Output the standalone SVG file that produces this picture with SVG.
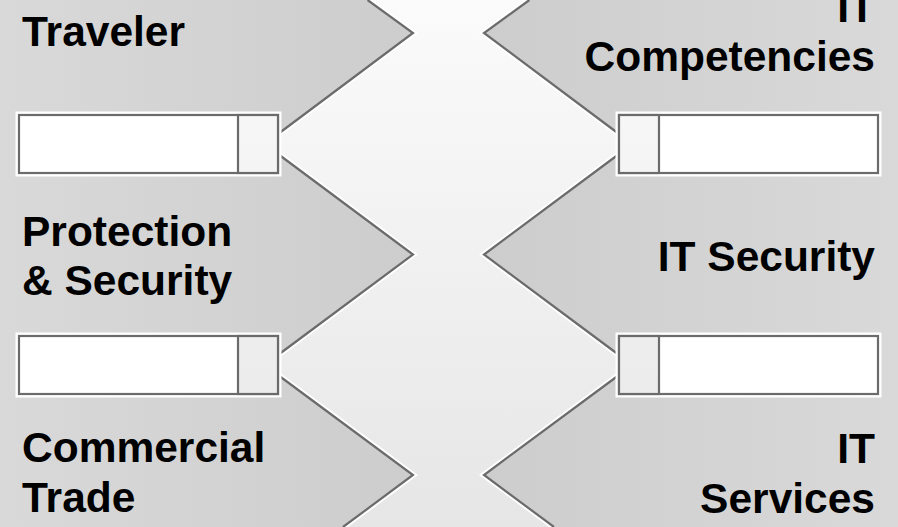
<svg xmlns="http://www.w3.org/2000/svg" width="898" height="527" viewBox="0 0 898 527">
<defs>
<linearGradient id="bg" gradientUnits="userSpaceOnUse" x1="0" y1="0" x2="0" y2="527">
<stop offset="0" stop-color="#fbfbfb"/>
<stop offset="1" stop-color="#e6e6e6"/>
</linearGradient>
<linearGradient id="gl" gradientUnits="userSpaceOnUse" x1="0" y1="0" x2="413" y2="0">
<stop offset="0" stop-color="#d9d9d9"/>
<stop offset="1" stop-color="#cdcdcd"/>
</linearGradient>
<linearGradient id="gr" gradientUnits="userSpaceOnUse" x1="898" y1="0" x2="484" y2="0">
<stop offset="0" stop-color="#d9d9d9"/>
<stop offset="1" stop-color="#cdcdcd"/>
</linearGradient>
<style>
.halo{fill:none;stroke:#ffffff;stroke-width:6;stroke-linejoin:miter}
.edge{fill:none;stroke:#6b6b6b;stroke-width:2.2;stroke-linejoin:miter}
.gl{fill:url(#gl)}
.gr{fill:url(#gr)}
.bhalo{fill:none;stroke:#ffffff;stroke-width:7}
.box{fill:#ffffff;stroke:#6b6b6b;stroke-width:2.2}
.notch{fill:url(#bg);stroke:#6b6b6b;stroke-width:2.2}
.t{font-family:"Liberation Sans",Arial,sans-serif;font-weight:bold;font-size:42.5px;fill:#000000}
.r{text-anchor:end}
</style>
</defs>
<rect x="0" y="0" width="898" height="527" fill="url(#bg)"/>

<g id="traveler">
<polyline class="halo" points="367.6,0 413,33 278,134"/>
<polygon class="gl" points="0,0 367.6,0 413,33 278,134 278,144 0,144"/>
<polyline class="edge" points="367.6,0 413,33 278,134"/>
<text class="t" x="22" y="46">Traveler</text>
</g>

<g id="protection-security">
<polyline class="halo" points="278,154 413,254.5 278,355"/>
<polygon class="gl" points="0,144 278,144 278,154 413,254.5 278,355 278,365 0,365"/>
<polyline class="edge" points="278,154 413,254.5 278,355"/>
<text class="t" x="22" y="246">Protection</text>
<text class="t" x="22" y="295">&amp; Security</text>
</g>

<g id="commercial-trade">
<polyline class="halo" points="278,375 413,475 343,527"/>
<polygon class="gl" points="0,365 278,365 278,375 413,475 343,527 0,527"/>
<polyline class="edge" points="278,375 413,475 343,527"/>
<text class="t" x="22" y="462">Commercial</text>
<text class="t" x="22" y="512">Trade</text>
</g>

<g id="it-competencies">
<polyline class="halo" points="529.4,0 484,33 619,134"/>
<polygon class="gr" points="898,0 529.4,0 484,33 619,134 619,144 898,144"/>
<polyline class="edge" points="529.4,0 484,33 619,134"/>
<text class="t r" x="875" y="22">IT</text>
<text class="t r" x="875" y="71">Competencies</text>
</g>

<g id="it-security">
<polyline class="halo" points="619,154 484,254.5 619,355"/>
<polygon class="gr" points="898,144 619,144 619,154 484,254.5 619,355 619,365 898,365"/>
<polyline class="edge" points="619,154 484,254.5 619,355"/>
<text class="t r" x="875" y="271">IT Security</text>
</g>

<g id="it-services">
<polyline class="halo" points="619,375 484,475 554,527"/>
<polygon class="gr" points="898,365 619,365 619,375 484,475 554,527 898,527"/>
<polyline class="edge" points="619,375 484,475 554,527"/>
<text class="t r" x="875" y="463">IT</text>
<text class="t r" x="875" y="513">Services</text>
</g>

<g id="box-left-1">
<rect class="bhalo" x="19" y="115" width="259" height="58"/>
<rect class="box" x="19" y="115" width="259" height="58"/>
<rect class="notch" x="238" y="115" width="40" height="58"/>
</g>
<g id="box-left-2">
<rect class="bhalo" x="19" y="336" width="259" height="58"/>
<rect class="box" x="19" y="336" width="259" height="58"/>
<rect class="notch" x="238" y="336" width="40" height="58"/>
</g>
<g id="box-right-1">
<rect class="bhalo" x="619" y="115" width="259" height="58"/>
<rect class="box" x="619" y="115" width="259" height="58"/>
<rect class="notch" x="619" y="115" width="40" height="58"/>
</g>
<g id="box-right-2">
<rect class="bhalo" x="619" y="336" width="259" height="58"/>
<rect class="box" x="619" y="336" width="259" height="58"/>
<rect class="notch" x="619" y="336" width="40" height="58"/>
</g>
<g id="connectors"/>
</svg>
